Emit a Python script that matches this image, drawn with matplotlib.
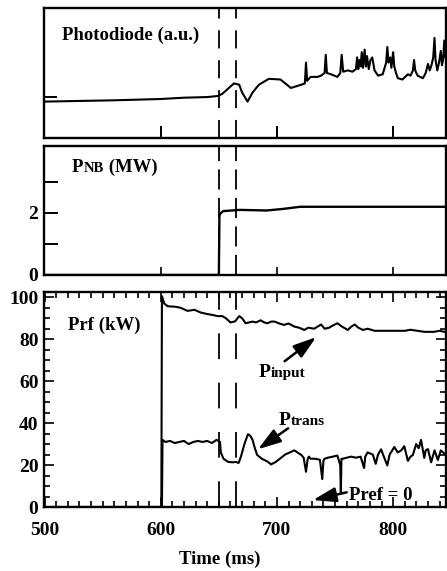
import matplotlib
matplotlib.use('Agg')
import matplotlib.pyplot as plt
from matplotlib.ticker import MultipleLocator

plt.rcParams['font.family'] = ['Liberation Serif', 'DejaVu Serif']
plt.rcParams['font.weight'] = 'bold'
plt.rcParams['axes.labelweight'] = 'bold'
plt.rcParams['lines.scale_dashes'] = False

# photodiode signal (a.u.)
pd_t = [500, 530, 560, 580, 600, 620, 640, 649, 653, 658, 663, 667.5, 670, 674.7, 679, 684.5,
        693, 703, 712, 721, 724, 725, 726, 729, 735, 738, 741, 742, 743, 746.6, 752, 754.5,
        755.7, 757, 761, 765, 768, 769, 770, 771, 772, 773, 774, 775.5, 776.5, 777.5, 779,
        780.5, 782, 784, 787, 791, 793, 794, 795, 796, 797.5, 798.5, 800, 801, 802.5, 804,
        808, 812.7, 815, 817, 818, 819, 821, 825.6, 828, 830, 831.5, 833, 834.5, 835.6,
        836.5, 838, 839.5, 841, 842, 843, 844, 845, 846]
pd_v = [0.28, 0.285, 0.29, 0.295, 0.30, 0.31, 0.315, 0.323, 0.34, 0.38, 0.42, 0.41, 0.35, 0.28,
        0.35, 0.41, 0.455, 0.45, 0.385, 0.41, 0.42, 0.58, 0.44, 0.47, 0.47, 0.48, 0.50, 0.64,
        0.50, 0.49, 0.47, 0.50, 0.64, 0.51, 0.52, 0.51, 0.53, 0.62, 0.53, 0.60, 0.55, 0.66,
        0.54, 0.68, 0.55, 0.63, 0.53, 0.60, 0.62, 0.52, 0.48, 0.49, 0.55, 0.58, 0.70, 0.58,
        0.62, 0.54, 0.66, 0.55, 0.50, 0.46, 0.45, 0.49, 0.48, 0.52, 0.60, 0.52, 0.48, 0.46,
        0.50, 0.57, 0.52, 0.56, 0.62, 0.77, 0.60, 0.52, 0.58, 0.67, 0.56, 0.60, 0.75, 0.62,
        0.72]

# neutral beam power (MW)
pnb_t = [500, 650, 650.5, 651.5, 653.7, 668, 691, 705, 720, 760, 846]
pnb_v = [0, 0, 1.93, 1.99, 2.06, 2.1, 2.08, 2.13, 2.2, 2.2, 2.2]

# rf input power (kW)
pin_t = [500, 600.5, 601, 603, 606, 612, 617, 623, 629, 634.5, 640, 645, 649, 653, 656, 660,
         664, 667.5, 670, 673, 676, 679, 682, 686, 689, 692, 695, 698, 702, 706, 710, 715,
         719, 723.5, 727, 732, 735, 738, 741, 745, 748, 752, 756, 761, 764, 767, 770, 774,
         778, 784, 790, 801, 810, 815, 821, 827, 835, 840, 846]
pin_v = [0, 0, 100.5, 97, 95.7, 95.5, 95, 93.5, 94, 92.7, 92, 91.5, 91, 91, 90, 88, 88.5, 91,
         90, 87.6, 88, 88.4, 88, 89, 88, 87.6, 88.4, 88.4, 87.5, 86.8, 87.5, 86, 85.5, 84.4,
         85.5, 85, 86, 87, 85, 85.5, 86.5, 87.6, 86, 84.4, 86, 87, 85.5, 84.4, 85, 84, 84, 84,
         84, 84.5, 84, 83.5, 83.5, 84, 83.3]

# rf transmitted power (kW)
ptr_t = [500, 601, 601.5, 604, 608, 612, 616, 620, 624, 628, 632, 636, 640, 644, 648, 651,
         651.7, 654, 658, 662, 664.6, 667, 669, 672, 675, 677, 679, 681, 683, 687, 692, 695,
         699, 703.4, 707, 711, 715, 719, 721, 723, 725, 726.5, 727.5, 729, 733, 737, 739, 740,
         741, 743.7, 748, 752, 754.5, 755, 755.5, 756.6, 760, 763.8, 768, 772, 775, 776, 778,
         782.5, 785, 787, 789.6, 792, 795, 797, 801, 804, 807, 809.6, 812.7, 815, 817, 819.8,
         822, 824, 826.8, 828, 830, 832.7, 835.6, 838.5, 841, 843, 845.7]
ptr_v = [0, 0, 32, 31, 31.5, 30.5, 31, 31.5, 30, 31, 31.5, 31, 31.5, 30.5, 32, 31, 26, 23,
         21.5, 21.3, 21.5, 21, 24, 30, 34.7, 34, 32, 28, 24.8, 23, 21.6, 20.3, 21.5, 23.4, 25,
         26, 27, 25.5, 24.8, 23.5, 16.8, 23, 24, 23, 23, 22.5, 13.3, 22, 23, 23.5, 24, 24.5,
         20, 6.7, 23, 23, 23.5, 24, 23.5, 24, 18.6, 24, 26, 25, 20.6, 25, 27.5, 24, 19.8, 25,
         28.6, 26, 27, 29, 22, 24, 24.8, 30, 28, 32, 23.4, 27, 27.6, 21.3, 27, 22.4, 27, 26,
         24.8]

t_marks = [650, 665]
xlim = (499.5, 845.5)
W, H = 447, 571


def label(ax, x, y, parts, coords='axes fraction'):
    prev = None
    for s, size in parts:
        if prev is None:
            prev = ax.annotate(s, (x, y), xycoords=coords, fontsize=size, va='baseline')
        else:
            prev = ax.annotate(s, (1, y), xycoords=(prev, coords), fontsize=size, va='baseline')


def spines(ax):
    for sp in ax.spines.values():
        sp.set_linewidth(1.7)


fig = plt.figure(figsize=(W / 100, H / 100), dpi=100)
ax1 = fig.add_axes([44 / W, 1 - 138 / H, 402 / W, 130 / H])
ax2 = fig.add_axes([44 / W, 1 - 275 / H, 402 / W, 129 / H])
ax3 = fig.add_axes([44 / W, 1 - 507 / H, 402 / W, 215 / H])

# top: photodiode
ax1.plot(pd_t, pd_v, color='k', lw=1.5)
ax1.set_xlim(*xlim)
ax1.set_ylim(0, 1)
ax1.set_xticks([600, 700, 800])
ax1.set_yticks([0.315])
ax1.tick_params(direction='in', length=9, width=1.4, labelbottom=False, labelleft=False)
for t in t_marks:
    ax1.axvline(t, color='k', lw=1.3, ls=(0, (13, 8.5)))
label(ax1, 0.045, 0.754, [('Photodiode (a.u.)', 13.5)])
spines(ax1)

# middle: NBI power
ax2.plot(pnb_t, pnb_v, color='k', lw=1.7)
ax2.set_xlim(*xlim)
ax2.set_ylim(0, 4.16)
ax2.set_xticks([600, 700, 800])
ax2.set_yticks([0, 1, 2, 3])
ax2.set_yticklabels(['0', '', '2', ''])
ax2.tick_params(axis='x', direction='in', length=6, width=1.2, labelbottom=False)
ax2.tick_params(axis='y', direction='in', length=10, width=1.4, labelsize=14, pad=4)
for t in t_marks:
    ax2.axvline(t, color='k', lw=1.3, ls=(0, (14.5, 6)))
label(ax2, 0.07, 0.80, [('P', 13.5), ('NB', 10.5), (' (MW)', 13.5)])
spines(ax2)

# bottom: rf power
ax3.plot(pin_t, pin_v, color='k', lw=1.5)
ax3.plot(ptr_t, ptr_v, color='k', lw=1.5)
ax3.set_xlim(*xlim)
ax3.set_ylim(0, 102.5)
ax3.xaxis.set_major_locator(MultipleLocator(100))
ax3.xaxis.set_minor_locator(MultipleLocator(10))
ax3.yaxis.set_major_locator(MultipleLocator(20))
ax3.yaxis.set_minor_locator(MultipleLocator(5))
ax3.tick_params(which='both', direction='in', top=True, right=True, width=1.2)
ax3.tick_params(which='major', length=7)
ax3.tick_params(which='minor', length=4)
ax3.tick_params(axis='x', labelsize=14, pad=11)
ax3.tick_params(axis='y', labelsize=14, pad=4)
for t in t_marks:
    ax3.axvline(t, color='k', lw=1.3, ls=(0, (18.5, 17)))
ax3.set_xlabel('Time (ms)', fontsize=13.5)
ax3.xaxis.set_label_coords(0.438, -0.205)
label(ax3, 0.06, 0.823, [('Prf (kW)', 13.5)])

label(ax3, 684, 62, [('P', 14), ('input', 11)], coords='data')
label(ax3, 701.5, 39, [('P', 14), ('trans', 11)], coords='data')
ax3.annotate('Pref = 0', (762, 3.3), fontsize=13.5, va='baseline')
arrow = dict(arrowstyle='-|>,head_length=1.4,head_width=0.45', color='k', lw=1.8,
             shrinkA=0, shrinkB=0)
ax3.annotate('', xy=(733.8, 81), xytext=(706.6, 69.5), arrowprops=arrow)
ax3.annotate('', xy=(683.6, 27.5), xytext=(709.6, 37.5), arrowprops=arrow)
ax3.annotate('', xy=(731, 3.3), xytext=(760, 7), arrowprops=arrow)
spines(ax3)

fig.savefig('out.png', dpi=100)
